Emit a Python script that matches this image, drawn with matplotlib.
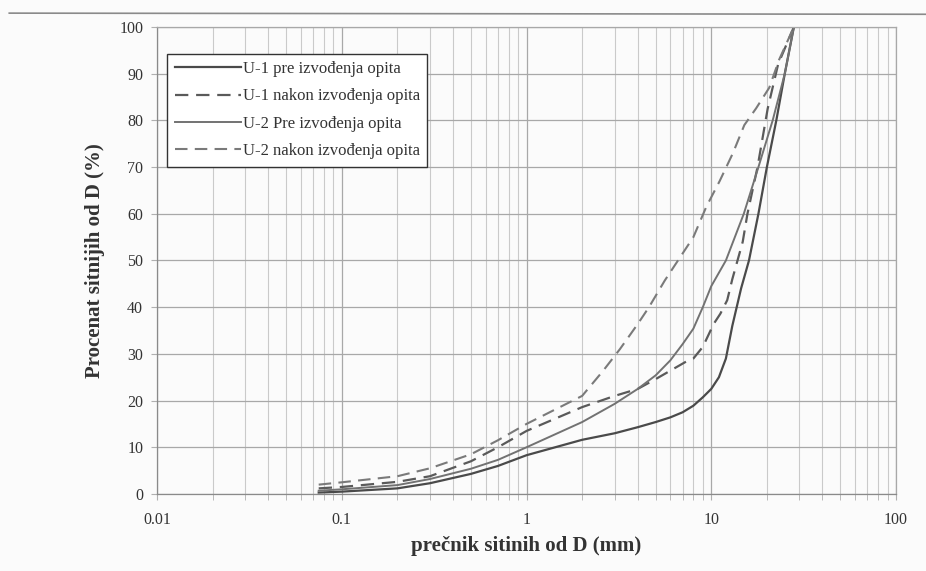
import numpy as np
import matplotlib
matplotlib.use("Agg")
import matplotlib.pyplot as plt
from matplotlib.ticker import LogLocator, FixedLocator, NullFormatter
from matplotlib.lines import Line2D

# grain size (mm) and percent passing
u1_pre_x = [0.075, 0.1, 0.2, 0.3, 0.5, 0.7, 1, 2, 3, 4, 5, 6, 7, 8, 9, 10, 11, 12, 13, 14.5, 16, 18, 20, 22.5, 25, 28]
u1_pre_y = [0.3, 0.5, 1.2, 2.3, 4.3, 6.0, 8.3, 11.6, 13.0, 14.3, 15.4, 16.4, 17.5, 18.9, 20.7, 22.5, 25, 29, 36, 44, 50, 60, 70, 80, 90, 100]

u1_nakon_x = [0.075, 0.1, 0.2, 0.3, 0.5, 0.7, 1, 2, 3, 4, 5, 7.5, 8, 9, 10.3, 11.2, 12.2, 13, 14.8, 15.7, 17.8, 20.2, 23, 28]
u1_nakon_y = [1.2, 1.5, 2.6, 3.8, 7.0, 10.0, 13.5, 18.6, 21, 22.5, 24.6, 28.6, 29, 31.5, 36.4, 38.6, 41.5, 46, 54, 60, 70, 82.5, 92, 100]

u2_pre_x = [0.075, 0.1, 0.2, 0.3, 0.5, 0.7, 1, 2, 3, 4, 5, 6, 7, 8, 9, 10, 12, 15, 18, 21.5, 25, 28]
u2_pre_y = [0.7, 1.0, 1.9, 3.2, 5.4, 7.3, 10, 15.4, 19.3, 22.5, 25.4, 28.6, 32.1, 35.4, 40, 44.5, 50, 60, 70, 80, 90, 100]

u2_nakon_x = [0.075, 0.1, 0.2, 0.3, 0.5, 0.7, 1, 2, 2.6, 3.2, 4, 4.6, 5.6, 8, 9.4, 11.1, 13.1, 15.1, 17.5, 20.6, 23.3, 28]
u2_nakon_y = [2.0, 2.5, 3.8, 5.5, 8.5, 11.5, 15, 21, 26.4, 31, 36.4, 40, 45.7, 55, 61.5, 67, 73, 79, 82.6, 87, 93, 100]

labels = ["U-1 pre izvođenja opita", "U-1 nakon izvođenja opita",
          "U-2 Pre izvođenja opita", "U-2 nakon izvođenja opita"]

plt.rcParams['font.family'] = ['Liberation Serif', 'DejaVu Serif']

fig = plt.figure(figsize=(9.26, 5.71), dpi=100, facecolor='#fbfbfb')
ax = fig.add_axes([0.1696, 0.1349, 0.7980, 0.8178])
ax.set_facecolor('#fbfbfb')

dash = (0, (6, 3.5))
ax.plot(u1_pre_x, u1_pre_y, color='#4a4a4a', lw=1.6, label=labels[0])
ax.plot(u1_nakon_x, u1_nakon_y, color='#5a5a5a', lw=1.6, ls=dash, label=labels[1])
ax.plot(u2_pre_x, u2_pre_y, color='#727272', lw=1.4, label=labels[2])
ax.plot(u2_nakon_x, u2_nakon_y, color='#7a7a7a', lw=1.5, ls=dash, label=labels[3])

ax.set_xscale('log')
ax.set_xlim(0.01, 100)
ax.set_ylim(0, 100)
ax.xaxis.set_major_locator(FixedLocator([0.01, 0.1, 1, 10, 100]))
ax.set_xticklabels(['0.01', '0.1', '1', '10', '100'])
ax.xaxis.set_minor_locator(LogLocator(base=10, subs=np.arange(2, 10)))
ax.xaxis.set_minor_formatter(NullFormatter())
ax.set_yticks(np.arange(0, 101, 10))

ax.grid(True, which='major', color='#a8a8a8', lw=0.9)
ax.grid(True, which='minor', axis='x', color='#cacaca', lw=0.8)
ax.tick_params(axis='x', which='both', length=4, color='#b0b0b0', labelsize=11.5, pad=9, labelcolor='#333333')
ax.tick_params(axis='y', length=4, color='#b0b0b0', labelsize=11.5, pad=6, labelcolor='#333333')
for s in ax.spines.values():
    s.set_color('#a8a8a8')
    s.set_linewidth(0.9)
ax.spines['left'].set_color('#8a8a8a')
ax.spines['bottom'].set_color('#8a8a8a')

ax.set_ylabel('Procenat sitnijih od D (%)', fontsize=15, fontweight='bold', color='#333333', labelpad=10)
ax.set_xlabel('prečnik sitinih od D (mm)', fontsize=15, fontweight='bold', color='#333333', labelpad=6)

leg = ax.legend(loc='upper left', bbox_to_anchor=(0.0135, 0.943), fontsize=12, frameon=True,
                fancybox=False, edgecolor='#333333', facecolor='white', framealpha=1,
                handlelength=4.0, handletextpad=0.1, borderpad=0.45, labelspacing=0.68,
                borderaxespad=0)
leg.get_frame().set_linewidth(1.0)
for t in leg.get_texts():
    t.set_color('#333333')

# page edge line from the scan
fig.add_artist(Line2D([0.01, 1.0], [0.977, 0.975], color='#8a8a8a', lw=1.2))

fig.savefig('out.png', dpi=100, facecolor=fig.get_facecolor())
